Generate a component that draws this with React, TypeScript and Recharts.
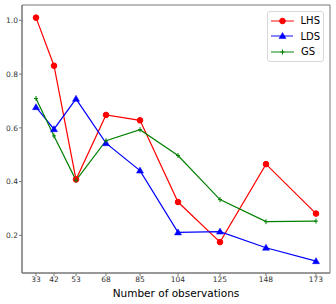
import { LineChart, Line, XAxis, YAxis, ReferenceArea } from 'recharts'

const observations = [33, 42, 53, 68, 85, 104, 125, 148, 173]
const lhs = [1.01, 0.831, 0.408, 0.648, 0.628, 0.324, 0.175, 0.465, 0.281]
const lds = [0.677, 0.595, 0.708, 0.543, 0.441, 0.211, 0.214, 0.154, 0.104]
const gs = [0.709, 0.57, 0.405, 0.552, 0.593, 0.497, 0.333, 0.251, 0.253]
const yTicks = [0.2, 0.4, 0.6, 0.8, 1.0]

const series = [
  { key: 'LHS', color: '#ff0000', marker: 'circle' },
  { key: 'LDS', color: '#0000ff', marker: 'triangle' },
  { key: 'GS', color: '#008000', marker: 'plus' },
]

const data = observations.map((n, i) => ({ n, LHS: lhs[i], LDS: lds[i], GS: gs[i] }))

const font = 'DejaVu Sans, sans-serif'

function Marker({ cx, cy, color, marker }: { cx: number; cy: number; color: string; marker: string }) {
  if (marker === 'circle') return <circle cx={cx} cy={cy} r={2.8} fill={color} stroke={color} />
  if (marker === 'triangle')
    return <path d={`M${cx},${cy - 3.5} L${cx + 3.5},${cy + 2.5} L${cx - 3.5},${cy + 2.5} Z`} fill={color} stroke={color} strokeWidth={0.5} />
  return <path d={`M${cx - 2},${cy} L${cx + 2},${cy} M${cx},${cy - 2.5} L${cx},${cy + 2.5}`} stroke={color} strokeWidth={1} fill="none" />
}

function LegendBox() {
  return (
    <div
      style={{
        position: 'absolute',
        left: 267,
        top: 11,
        width: 57,
        boxSizing: 'border-box',
        border: '1px solid #d8d8d8',
        borderRadius: 3,
        background: '#fff',
        padding: '1px 3px',
        fontFamily: font,
        fontSize: 10,
        color: '#000',
      }}
    >
      {series.map((s) => (
        <div key={s.key} style={{ display: 'flex', alignItems: 'center', height: 15.5 }}>
          <svg width={23} height={10} style={{ marginRight: 7 }}>
            <line x1={0} y1={5} x2={23} y2={5} stroke={s.color} strokeWidth={1.2} opacity={0.8} />
            <Marker cx={11.5} cy={5} color={s.color} marker={s.marker} />
          </svg>
          <span>{s.key}</span>
        </div>
      ))}
    </div>
  )
}

export default function App() {
  return (
    <div style={{ position: 'absolute', left: 0, top: 0, width: 336, height: 304, background: '#fff' }}>
      <LineChart width={336} height={304} data={data} margin={{ top: 5, right: 6, left: 0, bottom: 0 }}>
        <XAxis
          dataKey="n"
          type="number"
          domain={[26, 180]}
          ticks={observations}
          allowDataOverflow
          height={31}
          tick={{ fontSize: 7.5, fill: '#333', fontFamily: font }}
          tickSize={3}
          tickMargin={1}
          stroke="#777"
          label={{ value: 'Number of observations', position: 'insideBottom', offset: 7, fontSize: 10.5, fill: '#000', fontFamily: font }}
        />
        <YAxis
          type="number"
          domain={[0.06, 1.057]}
          ticks={yTicks}
          allowDataOverflow
          width={22}
          tick={{ fontSize: 7.5, fill: '#333', fontFamily: font }}
          tickSize={3}
          tickMargin={1}
          tickFormatter={(v: number) => v.toFixed(1)}
          stroke="#777"
        />
        <ReferenceArea x1={26} x2={180} y1={0.06} y2={1.057} fill="none" stroke="#777" strokeWidth={1} ifOverflow="visible" />
        {series.map((s) => (
          <Line
            key={s.key}
            dataKey={s.key}
            stroke={s.color}
            strokeWidth={1.2}
            isAnimationActive={false}
            dot={(p: any) => <Marker key={`${s.key}-${p.index}`} cx={p.cx} cy={p.cy} color={s.color} marker={s.marker} />}
            activeDot={false}
          />
        ))}
      </LineChart>
      <LegendBox />
    </div>
  )
}
